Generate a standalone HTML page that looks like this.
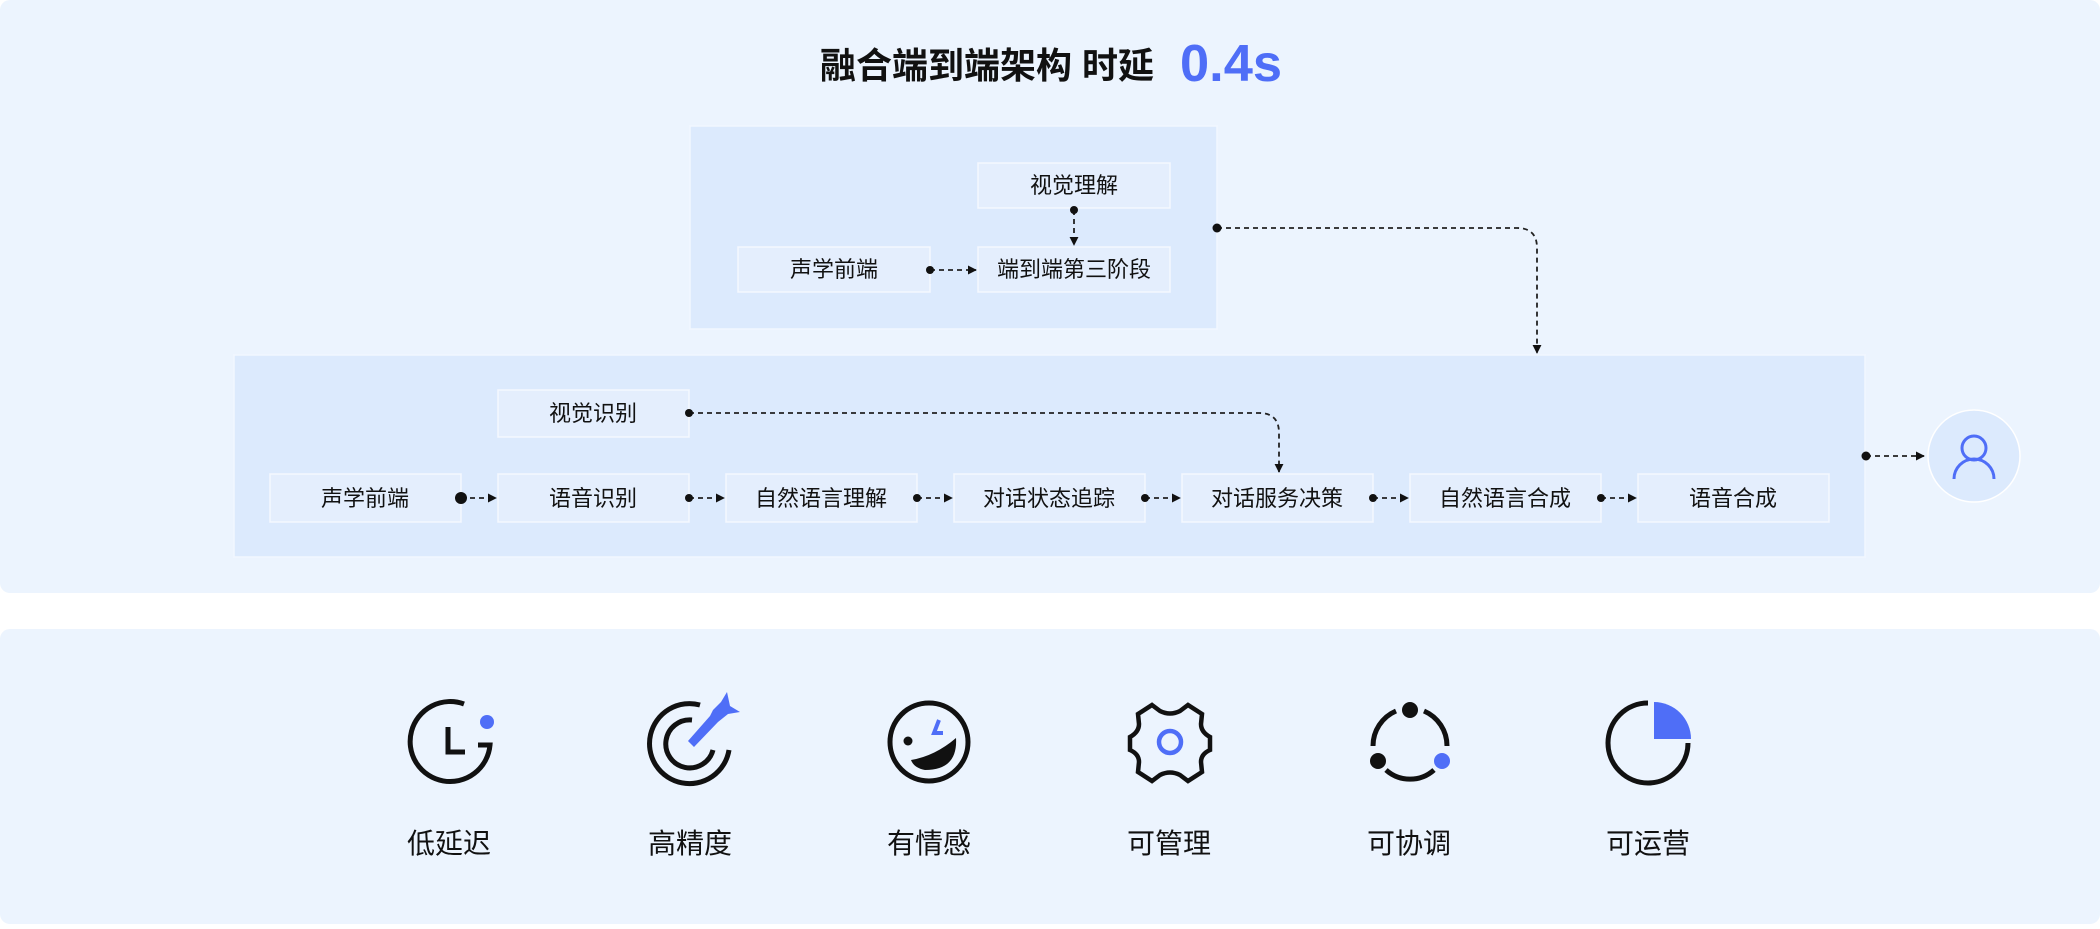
<!DOCTYPE html>
<html><head><meta charset="utf-8"><style>
html,body{margin:0;padding:0;background:#fff;}
body{width:2100px;height:924px;overflow:hidden;font-family:"Liberation Sans","Noto Sans CJK SC",sans-serif;}
</style></head><body>
<svg width="2100" height="924" viewBox="0 0 2100 924" xmlns="http://www.w3.org/2000/svg" font-family="Liberation Sans, Noto Sans CJK SC, sans-serif">
<defs>
<marker id="ar" viewBox="0 0 10 10" refX="9" refY="5" markerWidth="9" markerHeight="9" markerUnits="userSpaceOnUse" orient="auto"><path d="M0,0 L10,5 L0,10 z" fill="#111"/></marker>
</defs>
<rect x="0" y="0" width="2100" height="593" rx="10" fill="#ecf4fe"/>
<rect x="0" y="629" width="2100" height="295" rx="10" fill="#ecf4fe"/>
<text x="820" y="78" font-size="36" font-weight="bold" fill="#111" textLength="334" lengthAdjust="spacingAndGlyphs">融合端到端架构 时延</text>
<text x="1180" y="81" font-size="52" font-weight="bold" fill="#4f6ef7" textLength="102" lengthAdjust="spacingAndGlyphs">0.4s</text>

<!-- upper box -->
<rect x="690" y="126" width="527" height="203" fill="#dceafd" stroke="#f2f7ff" stroke-width="1.5"/>
<g font-size="22" fill="#111" text-anchor="middle">
<rect x="978" y="163" width="192" height="45" fill="#e4eefd" stroke="#f4f8ff" stroke-width="1.5"/>
<text x="1074" y="193">视觉理解</text>
<rect x="738" y="247" width="192" height="45" fill="#e4eefd" stroke="#f4f8ff" stroke-width="1.5"/>
<text x="834" y="277">声学前端</text>
<rect x="978" y="247" width="192" height="45" fill="#e4eefd" stroke="#f4f8ff" stroke-width="1.5"/>
<text x="1074" y="277">端到端第三阶段</text>
</g>
<g stroke="#222" stroke-width="1.8" stroke-dasharray="5,4" fill="none">
<line x1="930" y1="270" x2="976" y2="270" marker-end="url(#ar)"/>
<line x1="1074" y1="210" x2="1074" y2="245" marker-end="url(#ar)"/>
<path d="M1217,228 H1517 Q1537,228 1537,248 V353" marker-end="url(#ar)"/>
</g>
<circle cx="930" cy="270" r="4" fill="#111"/>
<circle cx="1074" cy="210" r="4" fill="#111"/>
<circle cx="1217" cy="228" r="4.5" fill="#111"/>

<!-- big box -->
<rect x="234" y="355" width="1631" height="202" fill="#dceafd" stroke="#f2f7ff" stroke-width="1.5"/>
<g font-size="22" fill="#111" text-anchor="middle">
<rect x="498" y="390" width="191" height="47" fill="#e4eefd" stroke="#f4f8ff" stroke-width="1.5"/>
<text x="593" y="421">视觉识别</text>
<rect x="270" y="474" width="191" height="48" fill="#e4eefd" stroke="#f4f8ff" stroke-width="1.5"/>
<text x="365" y="506">声学前端</text>
<rect x="498" y="474" width="191" height="48" fill="#e4eefd" stroke="#f4f8ff" stroke-width="1.5"/>
<text x="593" y="506">语音识别</text>
<rect x="726" y="474" width="191" height="48" fill="#e4eefd" stroke="#f4f8ff" stroke-width="1.5"/>
<text x="821" y="506">自然语言理解</text>
<rect x="954" y="474" width="191" height="48" fill="#e4eefd" stroke="#f4f8ff" stroke-width="1.5"/>
<text x="1049" y="506">对话状态追踪</text>
<rect x="1182" y="474" width="191" height="48" fill="#e4eefd" stroke="#f4f8ff" stroke-width="1.5"/>
<text x="1277" y="506">对话服务决策</text>
<rect x="1410" y="474" width="191" height="48" fill="#e4eefd" stroke="#f4f8ff" stroke-width="1.5"/>
<text x="1505" y="506">自然语言合成</text>
<rect x="1638" y="474" width="191" height="48" fill="#e4eefd" stroke="#f4f8ff" stroke-width="1.5"/>
<text x="1733" y="506">语音合成</text>
</g>
<g stroke="#222" stroke-width="1.8" stroke-dasharray="5,4" fill="none">
<line x1="461" y1="498" x2="496" y2="498" marker-end="url(#ar)"/>
<line x1="689" y1="498" x2="724" y2="498" marker-end="url(#ar)"/>
<line x1="917" y1="498" x2="952" y2="498" marker-end="url(#ar)"/>
<line x1="1145" y1="498" x2="1180" y2="498" marker-end="url(#ar)"/>
<line x1="1373" y1="498" x2="1408" y2="498" marker-end="url(#ar)"/>
<line x1="1601" y1="498" x2="1636" y2="498" marker-end="url(#ar)"/>
<path d="M689,413 H1259 Q1279,413 1279,433 V472" marker-end="url(#ar)"/>
<line x1="1866" y1="456" x2="1924" y2="456" marker-end="url(#ar)"/>
</g>
<circle cx="461" cy="498" r="6" fill="#111"/>
<circle cx="689" cy="498" r="4" fill="#111"/>
<circle cx="917" cy="498" r="4" fill="#111"/>
<circle cx="1145" cy="498" r="4" fill="#111"/>
<circle cx="1373" cy="498" r="4" fill="#111"/>
<circle cx="1601" cy="498" r="4" fill="#111"/>
<circle cx="689" cy="413" r="4" fill="#111"/>
<circle cx="1866" cy="456" r="4.5" fill="#111"/>

<!-- user -->
<circle cx="1974" cy="456" r="46" fill="#dceafd" stroke="#fff" stroke-width="1.5"/>
<circle cx="1974" cy="448" r="12" fill="none" stroke="#4f6ef7" stroke-width="3"/>
<path d="M1954,479 A20,20 0 0 1 1994,479" fill="none" stroke="#4f6ef7" stroke-width="3"/>

<!-- icons -->
<g fill="none" stroke="#111" stroke-width="5">
<path d="M464,704 A40,40 0 1 0 490,745 L478,745"/>
<path d="M448,727 V752 H465"/>
<path d="M700,705 A40,40 0 1 0 729,750"/>
<path d="M692,720 A24,24 0 1 0 713,750"/>
<circle cx="929" cy="742" r="39"/>
<path d="M1152,705 L1160,711 Q1170,716 1180,711 L1188,705 L1202,714 L1201,724 Q1201,732 1210,737 L1210,750 Q1201,754 1201,762 L1202,772 L1188,781 L1180,775 Q1170,770 1160,775 L1152,781 L1138,772 L1139,762 Q1139,754 1130,750 L1130,737 Q1139,732 1139,724 L1138,714 Z" stroke-width="4.5"/>
<path d="M1396,711 A38,38 0 0 0 1373,746"/>
<path d="M1424,711 A38,38 0 0 1 1447,746"/>
<path d="M1386,770 A36,36 0 0 0 1434,770"/>
<path d="M1648,703 A40,40 0 1 0 1688,743"/>
</g>
<circle cx="487" cy="722" r="7" fill="#4f6ef7"/>
<path d="M688,741 L710,716 L713,710 L721,702 L727,692 L730,706 L740,712 L728,714 L718,722 L694,747 Z" fill="#4f6ef7"/>
<circle cx="908" cy="741" r="4.5" fill="#111"/>
<path d="M939,720 L934,733 L943,733" fill="none" stroke="#4f6ef7" stroke-width="4"/>
<path d="M911,760 Q935,756 956,738 Q958,770 925,770 Q914,768 911,760 Z" fill="#111"/>
<circle cx="1170" cy="742" r="11" fill="none" stroke="#4f6ef7" stroke-width="4.5"/>
<circle cx="1410" cy="710" r="8" fill="#111"/>
<circle cx="1378" cy="761" r="8" fill="#111"/>
<circle cx="1442" cy="761" r="8" fill="#4f6ef7"/>
<path d="M1654,702 L1654,739 L1691,739 A37,37 0 0 0 1654,702 Z" fill="#4f6ef7"/>

<g font-size="28" fill="#111" text-anchor="middle">
<text x="449" y="853">低延迟</text>
<text x="690" y="853">高精度</text>
<text x="929" y="853">有情感</text>
<text x="1169" y="853">可管理</text>
<text x="1409" y="853">可协调</text>
<text x="1648" y="853">可运营</text>
</g>
</svg>
</body></html>
